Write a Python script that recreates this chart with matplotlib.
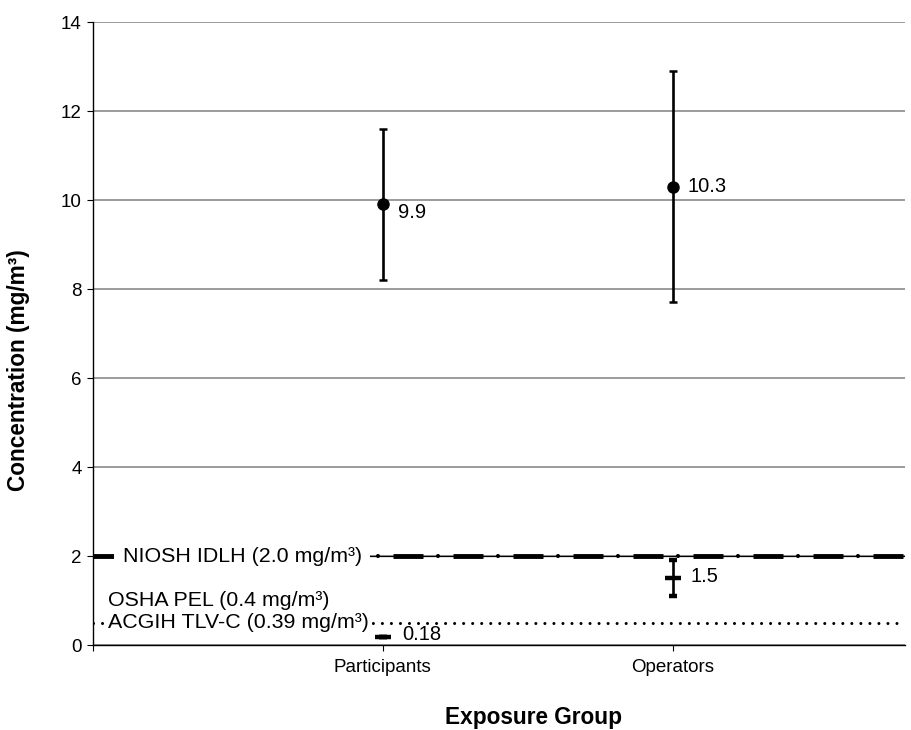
import numpy as np
import matplotlib
matplotlib.use('Agg')
import matplotlib.pyplot as plt

plt.rcParams['font.family'] = ['Liberation Sans', 'DejaVu Sans']
plt.rcParams['lines.scale_dashes'] = False

# data
groups = ['Participants', 'Operators']
group_pos = [1, 2]
high_means = [9.9, 10.3]
high_lo = [8.2, 7.7]
high_hi = [11.6, 12.9]
low_means = [0.18, 1.5]
low_lo = [0.18, 1.1]
low_hi = [0.18, 1.9]
niosh_idlh = 2.0
osha_line = 0.5

fig = plt.figure(figsize=(9.11, 7.30), dpi=100)
ax = fig.add_axes([0.102, 0.1164, 0.891, 0.8534])

ax.set_xlim(0, 2.8)
ax.set_ylim(0, 14)
ax.set_yticks(np.arange(0, 15, 2))
ax.set_xticks([0] + group_pos)
ax.set_xticklabels([''] + groups)
ax.yaxis.grid(True, color='#808080', linewidth=1.1)
ax.set_axisbelow(True)
for s in ['top', 'right']:
    ax.spines[s].set_visible(False)
for s in ['left', 'bottom']:
    ax.spines[s].set_linewidth(1.0)
ax.tick_params(axis='both', direction='out', length=4, width=0.8, labelsize=13.5)
ax.tick_params(axis='x', pad=6)
ax.tick_params(axis='y', pad=4)

# NIOSH IDLH line: thin base, thick dashes, dots between
ax.axhline(niosh_idlh, color='k', linewidth=0.9, zorder=2)
ax.axhline(niosh_idlh, color='k', linewidth=3.5, linestyle=(0, (21.6, 21.6)),
           dash_capstyle='butt', zorder=2)
ax.plot([0, 2.8], [niosh_idlh, niosh_idlh], color='k', linewidth=3.0,
        linestyle=(10.8, (0.01, 43.19)), dash_capstyle='round', zorder=2)

# OSHA / ACGIH dotted line
ax.plot([0, 2.78], [osha_line, osha_line], color='k', linewidth=2.2,
        linestyle=(0, (0.01, 6.49)), dash_capstyle='round', zorder=2)

# limit labels
ax.text(0.103, niosh_idlh, 'NIOSH IDLH (2.0 mg/m³)', fontsize=15.4, va='center',
        ha='left', bbox=dict(facecolor='white', edgecolor='none', pad=6), zorder=3)
ax.text(0.052, 1.01, 'OSHA PEL (0.4 mg/m³)', fontsize=15.4, va='center', ha='left', zorder=3)
ax.text(0.052, osha_line, 'ACGIH TLV-C (0.39 mg/m³)', fontsize=15.4, va='center',
        ha='left', bbox=dict(facecolor='white', edgecolor='none', pad=2), zorder=3)

# high exposure means with error bars
ax.errorbar(group_pos, high_means,
            yerr=[np.array(high_means) - np.array(high_lo), np.array(high_hi) - np.array(high_means)],
            fmt='o', color='k', ms=8, elinewidth=1.9, capsize=2.6, capthick=1.8, zorder=4)
# low exposure means
ax.errorbar(group_pos, low_means,
            yerr=[np.array(low_means) - np.array(low_lo), np.array(low_hi) - np.array(low_means)],
            fmt='_', color='k', ms=11, mew=3.2, elinewidth=1.9, capsize=2.8, capthick=1.8, zorder=4)

# value labels
ax.annotate('9.9', (group_pos[0], high_means[0]), xytext=(11, -6), textcoords='offset points',
            fontsize=14.5, va='center', ha='left')
ax.annotate('10.3', (group_pos[1], high_means[1]), xytext=(11, 0), textcoords='offset points',
            fontsize=14.5, va='center', ha='left')
ax.annotate('1.5', (group_pos[1], low_means[1]), xytext=(13, 1), textcoords='offset points',
            fontsize=14.5, va='center', ha='left')
ax.annotate('0.18', (group_pos[0], low_means[0]), xytext=(14, 1.5), textcoords='offset points',
            fontsize=14.5, va='center', ha='left')

ax.set_ylabel('Concentration (mg/m³)', fontsize=16.3, fontweight='bold', labelpad=22)
ax.yaxis.label.set_y(0.441)
ax.set_xlabel('Exposure Group', fontsize=16.3, fontweight='bold', labelpad=22)
ax.xaxis.label.set_x(0.543)

fig.savefig('out.png', dpi=100)
